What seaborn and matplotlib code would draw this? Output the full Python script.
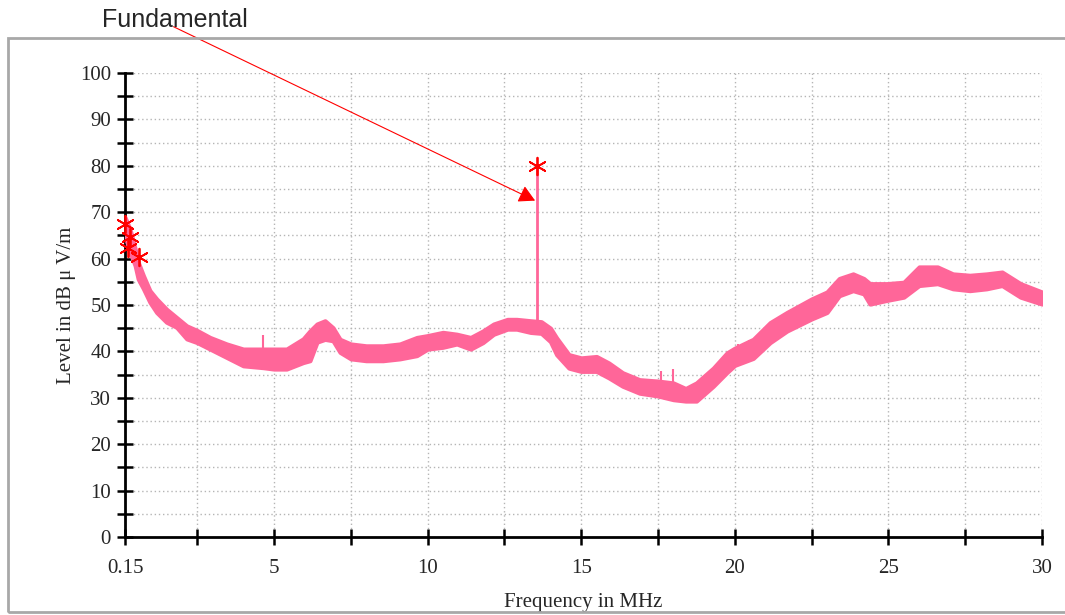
import matplotlib
matplotlib.use("Agg")
import matplotlib.pyplot as plt
import matplotlib.patches as mpatches
from matplotlib.ticker import FixedLocator, MultipleLocator
import pandas as pd
import seaborn as sns

freq_mhz = [0.15, 0.31, 0.48, 0.58, 0.75, 0.96, 1.18, 1.5, 1.83, 2.16, 2.5, 2.92,
            3.46, 4.0, 4.65, 5.0, 5.41, 5.95, 6.17, 6.4, 6.66, 6.92, 7.15, 7.5,
            8.0, 8.55, 9.1, 9.65, 10.0, 10.5, 10.95, 11.4, 11.8, 12.15, 12.6, 12.9,
            13.35, 13.7, 14.0, 14.2, 14.6, 15.0, 15.5, 15.9, 16.35, 16.9, 17.5, 18.0,
            18.4, 18.75, 19.3, 19.75, 20.0, 20.6, 21.15, 21.7, 22.5, 23.0, 23.4, 23.85,
            24.2, 24.4, 24.95, 25.5, 26.0, 26.6, 27.1, 27.65, 28.2, 28.7, 29.3, 30.0]
level_lo = [65.0, 61.4, 58.5, 55.6, 53.5, 50.6, 48.4, 46.3, 45.2, 42.7, 41.9, 40.5,
            38.7, 36.9, 36.5, 36.2, 36.2, 37.6, 38.0, 42.0, 42.6, 42.3, 39.8, 38.4,
            38.0, 38.0, 38.4, 39.1, 40.5, 40.9, 41.6, 40.5, 41.9, 43.7, 44.8, 44.8,
            44.1, 43.9, 42.1, 39.3, 36.4, 35.7, 35.7, 34.3, 32.5, 31.0, 30.4, 29.6,
            29.3, 29.3, 32.5, 35.5, 37.0, 38.5, 41.9, 44.4, 47.0, 48.4, 52.0, 53.1,
            52.4, 50.2, 51.0, 51.7, 54.2, 54.6, 53.5, 53.1, 53.5, 54.2, 51.7, 50.2]
level_hi = [68.9, 66.4, 62.1, 59.2, 56.3, 53.1, 51.3, 49.1, 47.3, 45.5, 44.5, 43.0,
            41.6, 40.5, 40.5, 40.5, 40.5, 42.7, 44.4, 45.9, 46.6, 45.1, 42.6, 41.6,
            41.2, 41.2, 41.6, 43.0, 43.4, 44.1, 43.7, 43.0, 44.4, 45.9, 46.9, 46.9,
            46.6, 46.4, 45.0, 42.9, 39.3, 38.6, 38.9, 37.5, 35.4, 33.9, 33.6, 33.2,
            32.0, 33.2, 36.4, 39.7, 40.7, 42.6, 46.2, 48.4, 51.3, 52.8, 55.7, 56.7,
            55.7, 54.6, 54.6, 54.9, 58.2, 58.2, 56.7, 56.4, 56.7, 57.1, 54.6, 52.8]

# noise spikes sticking out of the band
spike_f = [4.65, 17.6, 18.0, 20.1, 20.45]
spike_base = [40.0, 32.0, 32.0, 39.0, 40.0]
spike_top = [43.5, 35.8, 36.2, 41.5, 42.5]

# fundamental line
fund_f = 13.56
fund_base = 45.0
fund_top = 80.0

# peak markers
peak_f = [0.15, 0.26, 0.31, 0.62, 13.56]
peak_db = [67.5, 62.2, 64.7, 60.3, 80.0]

x_labels = [0.15, 5, 10, 15, 20, 25, 30]

trace_col = "#ff6699"

sns.set_style("white")
plt.rcParams["font.family"] = ["Liberation Serif", "DejaVu Serif"]

fig = plt.figure(figsize=(10.65, 6.15), dpi=100)
ax = fig.add_axes([125 / 1065, 78 / 615, 917 / 1065, 464 / 615])

ax.fill_between(freq_mhz, level_lo, level_hi, color=trace_col, lw=3, zorder=3)
ax.vlines(spike_f, spike_base, spike_top, color=trace_col, lw=1.5, zorder=3)
fund = pd.DataFrame({"f": [fund_f, fund_f], "db": [fund_base, fund_top]})
sns.lineplot(data=fund, x="f", y="db", color=trace_col, lw=2, estimator=None,
             sort=False, ax=ax, zorder=3)
peaks = pd.DataFrame({"f": peak_f, "db": peak_db})
sns.scatterplot(data=peaks, x="f", y="db", marker=(6, 2, 0), s=160, color="red",
                linewidth=1.3, ax=ax, zorder=4, clip_on=False)

ax.set_xlim(0.15, 30)
ax.set_ylim(0, 100)
ax.xaxis.set_major_locator(FixedLocator(x_labels))
ax.xaxis.set_minor_locator(FixedLocator([2.5, 7.5, 12.5, 17.5, 22.5, 27.5]))
ax.set_xticklabels(["0.15", "5", "10", "15", "20", "25", "30"])
ax.yaxis.set_major_locator(MultipleLocator(10))
ax.yaxis.set_minor_locator(MultipleLocator(5))

for s in ["top", "right"]:
    ax.spines[s].set_visible(False)
for s in ["left", "bottom"]:
    ax.spines[s].set_color("black")
    ax.spines[s].set_linewidth(2)

ax.tick_params(which="both", direction="inout", length=12, width=1.8, color="black",
               labelsize=15, left=True, bottom=True)
ax.tick_params(axis="x", which="both", pad=10)
ax.tick_params(axis="y", which="both", pad=4)

ax.grid(True, which="both", ls=(0, (1, 2)), color="#b5b5b5", lw=1, zorder=0)
ax.set_axisbelow(True)

ax.set_xlabel("Frequency in MHz", fontsize=15, labelpad=11)
ax.set_ylabel("Level in dB \u03bc V/m", fontsize=15, labelpad=3)

ax.annotate("Fundamental", xy=(13.5, 72.5), xycoords="data",
            xytext=(175 / 1065, 1 - 20 / 615), textcoords="figure fraction",
            ha="center", va="center", fontsize=18, family=["Liberation Sans"],
            arrowprops=dict(arrowstyle="-|>,head_length=0.55,head_width=0.3",
                            color="red", lw=0.8, relpos=(0.49, 0.22),
                            patchA=None, shrinkA=0, shrinkB=0))

frame = mpatches.Rectangle((8 / 1065, 3 / 615), 1.2, (612 - 38) / 615,
                           transform=fig.transFigure, fill=False,
                           edgecolor="#a8a8a8", lw=2, clip_on=False)
fig.patches.append(frame)

fig.savefig("out.png", dpi=100)
